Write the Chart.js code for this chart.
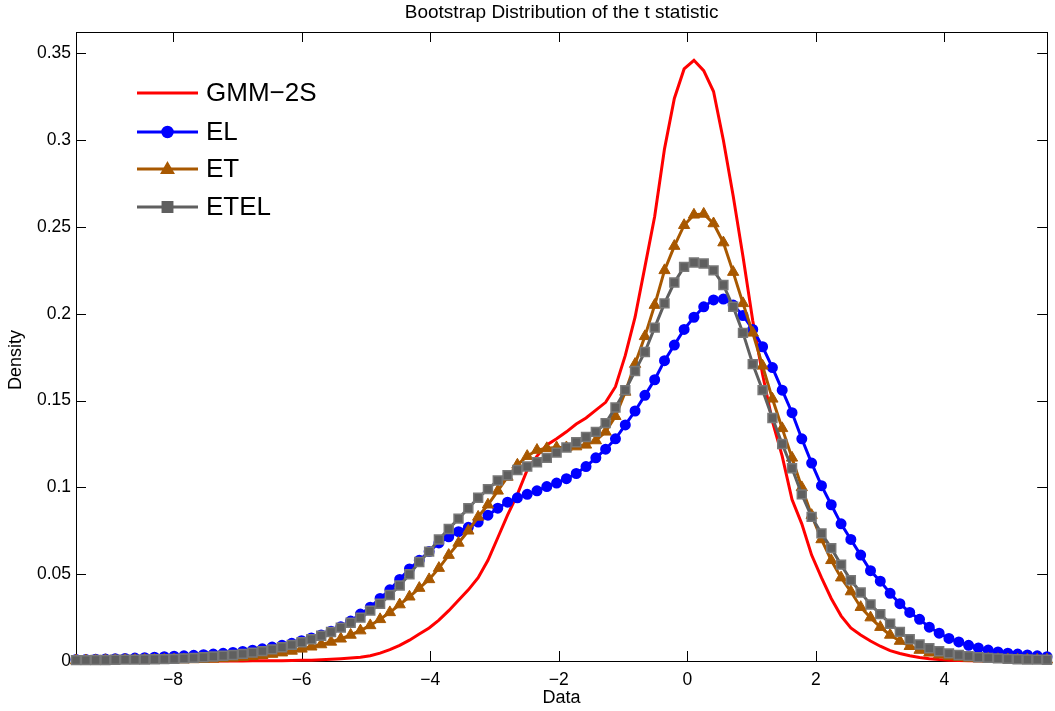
<!DOCTYPE html>
<html><head><meta charset="utf-8">
<script src="https://cdn.jsdelivr.net/npm/chart.js@4.4.1/dist/chart.umd.min.js"></script>
<style>html,body{margin:0;padding:0;background:#fff;}#wrap{width:1055px;height:711px;position:relative;}</style>
</head><body><div id="wrap"><canvas id="c" width="1055" height="711"></canvas></div>
<script>
const chartTitle = 'Bootstrap Distribution of the t statistic';
const xLabel = 'Data';
const yLabel = 'Density';
const seriesNames = ['GMM\u22122S', 'EL', 'ET', 'ETEL'];
const xTicks = [-8, -6, -4, -2, 0, 2, 4];
const yTicks = [0, 0.05, 0.1, 0.15, 0.2, 0.25, 0.3, 0.35];
const xMin = -9.51, xMax = 5.60, yMin = 0, yMax = 0.3623;

const xGrid = [-9.510,-9.357,-9.205,-9.052,-8.900,-8.747,-8.594,-8.442,-8.289,-8.137,
-7.984,-7.831,-7.679,-7.526,-7.374,-7.221,-7.068,-6.916,-6.763,-6.611,
-6.458,-6.305,-6.153,-6.000,-5.848,-5.695,-5.542,-5.390,-5.237,-5.085,
-4.932,-4.779,-4.627,-4.474,-4.322,-4.169,-4.016,-3.864,-3.711,-3.559,
-3.406,-3.253,-3.101,-2.948,-2.796,-2.643,-2.490,-2.338,-2.185,-2.033,
-1.880,-1.727,-1.575,-1.422,-1.270,-1.117,-0.964,-0.812,-0.659,-0.507,
-0.354,-0.201,-0.049,0.104,0.256,0.409,0.562,0.714,0.867,1.019,
1.172,1.325,1.477,1.630,1.782,1.935,2.088,2.240,2.393,2.545,
2.698,2.851,3.003,3.156,3.308,3.461,3.614,3.766,3.919,4.071,
4.224,4.377,4.529,4.682,4.834,4.987,5.140,5.292,5.445,5.597];

const gmm2s = [0,0,0,0,0,0,0,0,0,0,
0,0,0,0,0,0,0,0,0.0001,0.0001,
0.0002,0.0002,0.0003,0.0004,0.0005,0.0007,0.001,0.0013,0.0017,0.0022,
0.003,0.0045,0.0065,0.009,0.012,0.0155,0.019,0.0235,0.029,0.035,
0.041,0.048,0.058,0.071,0.084,0.096,0.110,0.118,0.1245,0.128,
0.132,0.1365,0.140,0.1445,0.149,0.158,0.176,0.198,0.227,0.256,
0.295,0.324,0.341,0.346,0.340,0.328,0.300,0.268,0.233,0.196,
0.165,0.138,0.118,0.093,0.079,0.061,0.048,0.036,0.026,0.019,
0.015,0.0115,0.0085,0.006,0.0043,0.003,0.002,0.0013,0.0008,0.0005,
0.0003,0.0002,0.0001,0,0,0,0,0,0,0];

const el = [0.0008,0.0009,0.001,0.0011,0.0013,0.0015,0.0017,0.0019,0.0022,0.0025,
0.0028,0.003,0.0033,0.0036,0.004,0.0044,0.0049,0.0055,0.0062,0.007,
0.008,0.009,0.0102,0.0117,0.0133,0.015,0.0172,0.0197,0.023,0.027,
0.031,0.036,0.041,0.047,0.053,0.058,0.063,0.068,0.0715,0.0745,
0.077,0.080,0.084,0.088,0.0915,0.094,0.096,0.098,0.1005,0.1025,
0.105,0.108,0.112,0.117,0.122,0.128,0.136,0.144,0.153,0.162,
0.173,0.182,0.191,0.198,0.204,0.208,0.2085,0.205,0.199,0.191,
0.181,0.169,0.156,0.143,0.128,0.114,0.101,0.090,0.079,0.070,
0.061,0.052,0.046,0.039,0.033,0.028,0.024,0.0195,0.016,0.013,
0.011,0.009,0.0075,0.0063,0.0052,0.0045,0.004,0.0035,0.003,0.0025];

const et = [0.0003,0.0003,0.0003,0.0004,0.0004,0.0005,0.0005,0.0006,0.0006,0.0007,
0.0008,0.0008,0.0009,0.001,0.0012,0.0015,0.0018,0.0022,0.0027,0.0033,
0.004,0.0048,0.0058,0.007,0.0082,0.0095,0.011,0.0128,0.015,0.0175,
0.0205,0.024,0.028,0.0325,0.037,0.042,0.047,0.0535,0.061,0.068,
0.075,0.083,0.090,0.098,0.106,0.113,0.118,0.1215,0.1225,0.123,
0.123,0.1235,0.1245,0.127,0.132,0.141,0.155,0.171,0.187,0.205,
0.225,0.239,0.251,0.257,0.2575,0.252,0.241,0.224,0.206,0.189,
0.170,0.151,0.134,0.117,0.100,0.084,0.070,0.058,0.048,0.040,
0.031,0.025,0.0195,0.015,0.0115,0.0085,0.0063,0.0047,0.0036,0.0028,
0.0022,0.0017,0.0014,0.0012,0.001,0.0009,0.0008,0.0008,0.0007,0.0007];

const etel = [0.0005,0.0005,0.0006,0.0006,0.0007,0.0008,0.0008,0.0009,0.001,0.0011,
0.0012,0.0015,0.0018,0.0022,0.0026,0.003,0.0035,0.0041,0.0048,0.0057,
0.0067,0.0079,0.0093,0.0108,0.0125,0.0145,0.0167,0.0192,0.022,0.025,
0.029,0.033,0.038,0.0435,0.050,0.057,0.063,0.070,0.076,0.082,
0.088,0.094,0.099,0.104,0.107,0.110,0.112,0.1145,0.117,0.120,
0.123,0.126,0.129,0.132,0.137,0.146,0.156,0.167,0.178,0.192,
0.206,0.218,0.227,0.2295,0.229,0.225,0.2166,0.204,0.189,0.171,
0.156,0.140,0.125,0.111,0.096,0.083,0.0735,0.065,0.0555,0.0465,
0.0395,0.0325,0.027,0.0215,0.0168,0.0125,0.0095,0.0073,0.0056,0.0044,
0.0035,0.0028,0.0022,0.0018,0.0015,0.0012,0.001,0.0009,0.0008,0.0007];

const FONT = "'Liberation Sans', Arial, Helvetica, sans-serif";
Chart.defaults.font.family = FONT;
Chart.defaults.color = '#000';

const pts = arr => xGrid.map((x, i) => ({x: x, y: arr[i]}));

const RED = '#ff0000', BLUE = '#0000ff', BROWN = 'rgb(168,88,0)', GRAY = 'rgb(95,95,95)';

const datasets = [
  {label: seriesNames[0], data: pts(gmm2s), borderColor: RED, backgroundColor: RED, borderWidth: 3,
   pointRadius: 0, order: 3, mk: null},
  {label: seriesNames[1], data: pts(el), borderColor: BLUE, backgroundColor: BLUE, borderWidth: 3,
   pointStyle: 'circle', pointRadius: 4.5, pointBorderWidth: 2, pointBackgroundColor: BLUE, pointBorderColor: BLUE, order: 2, mk: 'circle'},
  {label: seriesNames[2], data: pts(et), borderColor: BROWN, backgroundColor: BROWN, borderWidth: 3,
   pointStyle: 'triangle', pointRadius: 6.5, pointBorderWidth: 1, pointBackgroundColor: BROWN, pointBorderColor: BROWN, order: 1, mk: 'triangle'},
  {label: seriesNames[3], data: pts(etel), borderColor: GRAY, backgroundColor: GRAY, borderWidth: 3,
   pointStyle: 'rect', pointRadius: 6.3, pointBorderWidth: 1.5, pointBackgroundColor: GRAY, pointBorderColor: 'rgb(120,120,120)', order: 0, mk: 'rect'}
];
datasets.forEach(d => { d.tension = 0; d.clip = 8; d.pointHoverRadius = d.pointRadius; });

function drawMarker(ctx, style, x, y, r, color) {
  ctx.save();
  ctx.fillStyle = color; ctx.strokeStyle = color; ctx.lineWidth = 1.5;
  ctx.beginPath();
  if (style === 'circle') { ctx.arc(x, y, r, 0, Math.PI * 2); }
  else if (style === 'triangle') {
    ctx.moveTo(x, y - r); ctx.lineTo(x + r * 0.95, y + r * 0.65); ctx.lineTo(x - r * 0.95, y + r * 0.65); ctx.closePath();
  } else if (style === 'rect') { ctx.rect(x - r * 0.8, y - r * 0.8, r * 1.6, r * 1.6); }
  ctx.fill(); ctx.stroke();
  ctx.restore();
}

const framePlugin = {
  id: 'frame',
  beforeDatasetsDraw(chart) {
    const {ctx, chartArea: a, scales} = chart;
    ctx.save();
    ctx.strokeStyle = '#000'; ctx.lineWidth = 1;
    ctx.strokeRect(Math.round(a.left) + 0.5, Math.round(a.top) + 0.5, Math.round(a.right - a.left), Math.round(a.bottom - a.top));
    const L = 10;
    ctx.beginPath();
    xTicks.forEach(v => {
      const px = Math.round(scales.x.getPixelForValue(v)) + 0.5;
      ctx.moveTo(px, a.bottom); ctx.lineTo(px, a.bottom - L);
      ctx.moveTo(px, a.top); ctx.lineTo(px, a.top + L);
    });
    yTicks.forEach(v => {
      const py = Math.round(scales.y.getPixelForValue(v)) + 0.5;
      ctx.moveTo(a.left, py); ctx.lineTo(a.left + L, py);
      ctx.moveTo(a.right, py); ctx.lineTo(a.right - L, py);
    });
    ctx.stroke();
    ctx.restore();
  },
  afterDraw(chart) {
    const {ctx, chartArea: a} = chart;
    ctx.save();
    ctx.fillStyle = '#000';
    // title centred over the axes
    ctx.font = '19px ' + FONT;
    ctx.textAlign = 'center'; ctx.textBaseline = 'middle';
    ctx.fillText(chartTitle, (a.left + a.right) / 2, 13);
    // y-axis label
    ctx.save();
    ctx.translate(16, 360);
    ctx.rotate(-Math.PI / 2);
    ctx.font = '18px ' + FONT;
    ctx.fillText(yLabel, 0, 0);
    ctx.restore();
    // legend (no box)
    ctx.font = '26px ' + FONT;
    ctx.textAlign = 'left';
    const rows = [93, 132, 169, 207];
    chart.data.datasets.forEach((d, i) => {
      const y = rows[i];
      ctx.strokeStyle = d.borderColor; ctx.lineWidth = 3;
      ctx.beginPath(); ctx.moveTo(137, y); ctx.lineTo(198, y); ctx.stroke();
      if (d.mk) drawMarker(ctx, d.mk, 167.5, y, d.mk === 'circle' ? 5.5 : 6.5, d.borderColor);
      ctx.fillStyle = '#000';
      ctx.fillText(d.label, 206, y + 1);
    });
    ctx.restore();
  }
};

new Chart(document.getElementById('c'), {
  type: 'line',
  data: {datasets: datasets},
  plugins: [framePlugin],
  options: {
    responsive: false,
    animation: false,
    events: [],
    layout: {padding: {top: 32, right: 3, left: 0, bottom: 0}},
    plugins: {legend: {display: false}, title: {display: false}, tooltip: {enabled: false}},
    scales: {
      x: {
        type: 'linear', min: xMin, max: xMax,
        grid: {display: false, drawTicks: false}, border: {display: false},
        afterBuildTicks: s => { s.ticks = xTicks.map(v => ({value: v})); },
        afterFit: s => { s.height = 50; },
        ticks: {font: {size: 17.5}, padding: 9, maxRotation: 0, autoSkip: false,
          callback: v => v < 0 ? '\u2212' + Math.abs(v) : String(v)},
        title: {display: true, text: xLabel, font: {size: 18}, padding: {top: 0, bottom: 2}}
      },
      y: {
        type: 'linear', min: yMin, max: yMax,
        grid: {display: false, drawTicks: false}, border: {display: false},
        afterBuildTicks: s => { s.ticks = yTicks.map(v => ({value: v})); },
        afterFit: s => { s.width = 76; },
        ticks: {font: {size: 17.5}, padding: 5, autoSkip: false,
          callback: v => String(v)},
        title: {display: false, text: yLabel}
      }
    }
  }
});
</script></body></html>
